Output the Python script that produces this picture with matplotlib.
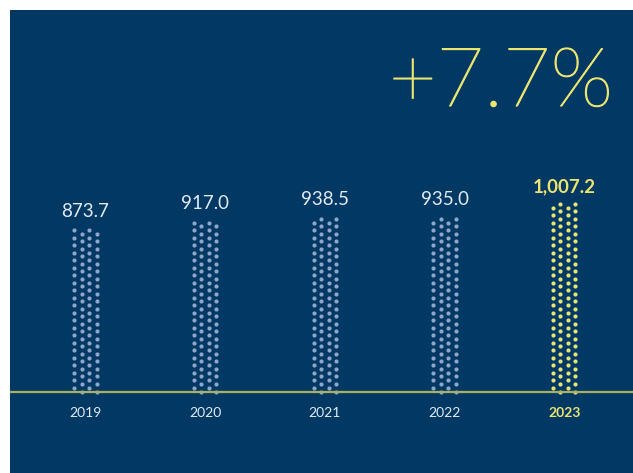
import matplotlib
matplotlib.use("Agg")
import matplotlib.pyplot as plt
import matplotlib.patheffects as pe
import numpy as np

years = ["2019", "2020", "2021", "2022", "2023"]
values = [873.7, 917.0, 938.5, 935.0, 1007.2]
value_labels = ["873.7", "917.0", "938.5", "935.0", "1,007.2"]
headline = "+7.7%"

NAVY = "#023864"
DOT = "#8fa6c6"
YELLOW = "#ebe570"
LINE = "#aab062"
TXT = "#e4eaf2"

W, H = 633, 473
fig = plt.figure(figsize=(W / 100, H / 100), dpi=100, facecolor="white")
ax = fig.add_axes([10 / W, 0, 623 / W, 463 / H])
ax.set_facecolor(NAVY)
for s in ax.spines.values():
    s.set_visible(False)
ax.set_xticks([])
ax.set_yticks([])

pxu = 0.18775  # px per value unit
base = 391.5
ax.set_ylim((base - 473) / pxu, (base - 10) / pxu)
xpx = 119.7
xmin = -(85.4 - 10) / xpx
ax.set_xlim(xmin, xmin + 623 / xpx)

step = 40.0
col_off = np.array([-1.5, -0.5, 0.5, 1.5]) * 0.0625
shift = [0.5, 0.0, 0.5, 0.0]
last = len(values) - 1
for i, v in enumerate(values):
    color = YELLOW if i == last else DOT
    xs, ys = [], []
    for off, sh in zip(col_off, shift):
        k = np.arange(0, int(np.floor(v / step - sh)) + 1)
        yy = (k + sh) * step
        xs.extend([i + off] * len(yy))
        ys.extend(yy)
    ax.scatter(xs, ys, s=9, color=color, linewidths=0, zorder=2)
    bold = i == last
    ax.annotate(value_labels[i], (i, v), xytext=(0, 7.6), textcoords="offset points",
                ha="center", va="baseline", fontsize=13.5, family="Lato",
                fontweight="bold" if bold else "normal",
                color=YELLOW if bold else TXT)
    ax.annotate(years[i], (i, 0), xytext=(0, -18.1), textcoords="offset points",
                ha="center", va="baseline", fontsize=10, family="Lato",
                fontweight="bold" if bold else "normal",
                color=YELLOW if bold else TXT)

ax.axhline(0, color=LINE, lw=1.6, zorder=3)

fig.text(389 / W, 1 - 106 / H, headline, ha="left", va="baseline",
         fontsize=59, family="Lato", fontweight=100, color=YELLOW,
         path_effects=[pe.withStroke(linewidth=0.9, foreground=YELLOW)])

fig.savefig("out.png", dpi=100, facecolor="white")
